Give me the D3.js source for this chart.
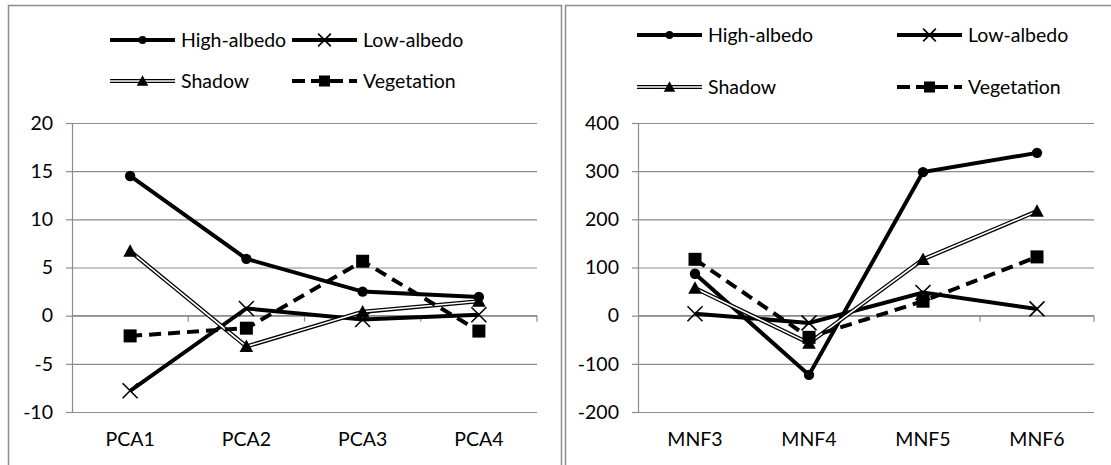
<!DOCTYPE html>
<html><head><meta charset="utf-8">
<script src="https://cdn.jsdelivr.net/npm/d3@7"></script>
<style>
html,body{margin:0;padding:0;background:#fff;}
svg{display:block;}
text{font-family:Lato, "Liberation Sans", sans-serif;fill:#000;}
</style></head>
<body>
<svg id="chart" width="1111" height="465"></svg>
<script>
// ---- data ----
const seriesNames = ["High-albedo", "Low-albedo", "Shadow", "Vegetation"];
const pcaCategories = ["PCA1", "PCA2", "PCA3", "PCA4"];
const pcaHigh = [14.5, 5.9, 2.5, 1.95];
const pcaLow = [-7.8, 0.75, -0.4, 0.1];
const pcaShadow = [6.7, -3.2, 0.4, 1.5];
const pcaVeg = [-2.1, -1.3, 5.65, -1.6];
const pcaTicks = [-10, -5, 0, 5, 10, 15, 20];

const mnfCategories = ["MNF3", "MNF4", "MNF5", "MNF6"];
const mnfHigh = [87, -123, 298, 338];
const mnfLow = [4, -15, 48, 14];
const mnfShadow = [57, -57, 117, 217];
const mnfVeg = [117, -45, 30, 122];
const mnfTicks = [-200, -100, 0, 100, 200, 300, 400];

// ---- drawing ----
const svg = d3.select("#chart");
const FONT = 19.5;
const GRID = "#8c8c8c";

svg.append("rect").attr("width", 1111).attr("height", 465).attr("fill", "#fff");
// frames
svg.append("rect").attr("x", 8.5).attr("y", 5.5).attr("width", 553).attr("height", 480)
  .attr("fill", "none").attr("stroke", GRID).attr("stroke-width", 1.5);
svg.append("rect").attr("x", 565.5).attr("y", 5.5).attr("width", 560).attr("height", 480)
  .attr("fill", "none").attr("stroke", GRID).attr("stroke-width", 1.5);

const styles = [
  {kind: "solid", marker: "circle"},
  {kind: "solid", marker: "x"},
  {kind: "double", marker: "triangle"},
  {kind: "dash", marker: "square"}
];

function drawMarker(g, type, cx, cy, s) {
  if (type === "circle") {
    g.append("circle").attr("cx", cx).attr("cy", cy).attr("r", 5.2 * s).attr("fill", "#000");
  } else if (type === "x") {
    const h = 7.5 * s;
    g.append("path").attr("d", `M${cx-h},${cy-h}L${cx+h},${cy+h}M${cx-h},${cy+h}L${cx+h},${cy-h}`)
      .attr("stroke", "#000").attr("stroke-width", 1.6).attr("fill", "none");
  } else if (type === "triangle") {
    const w = 6.8 * s, h = 12.5 * s;
    g.append("path").attr("d", `M${cx},${cy-h*0.55}L${cx+w},${cy+h*0.45}L${cx-w},${cy+h*0.45}Z`).attr("fill", "#000");
  } else if (type === "square") {
    const h = 6.5 * s;
    g.append("rect").attr("x", cx-h).attr("y", cy-h).attr("width", 2*h).attr("height", 2*h).attr("fill", "#000");
  }
}

function drawLine(g, pts, kind) {
  const line = d3.line();
  if (kind === "double") {
    g.append("path").attr("d", line(pts)).attr("fill", "none").attr("stroke", "#000").attr("stroke-width", 4.2);
    g.append("path").attr("d", line(pts)).attr("fill", "none").attr("stroke", "#fff").attr("stroke-width", 1.6);
  } else {
    g.append("path").attr("d", line(pts)).attr("fill", "none").attr("stroke", "#000")
      .attr("stroke-width", 4).attr("stroke-dasharray", kind === "dash" ? "12,7" : null);
  }
}

function panel(opts) {
  const {x0, x1, y0, y1, cats, series, ticks, legend} = opts;
  const g = svg.append("g");
  const x = d3.scaleBand().domain(cats).range([x0, x1]).padding(0);
  const y = d3.scaleLinear().domain([ticks[0], ticks[ticks.length-1]]).range([y1, y0]);

  // gridlines
  const grid = g.append("g").attr("transform", `translate(${x0},0)`)
    .call(d3.axisLeft(y).tickValues(ticks).tickSize(-(x1 - x0)).tickFormat(""));
  grid.select(".domain").remove();
  grid.selectAll("line").attr("stroke", GRID).attr("stroke-width", 1.2);

  // y axis with outer ticks and labels (plain hyphen minus)
  const ya = g.append("g").attr("transform", `translate(${x0},0)`)
    .call(d3.axisLeft(y).tickValues(ticks).tickSize(6).tickSizeOuter(0).tickPadding(13)
      .tickFormat(d => String(d)));
  ya.select(".domain").attr("stroke", GRID).attr("stroke-width", 1.2);
  ya.selectAll("line").attr("stroke", GRID).attr("stroke-width", 1.2);
  ya.selectAll("text").attr("font-size", FONT).attr("font-family", "Lato").attr("fill", "#000");

  // x axis at zero with boundary ticks
  const xa = g.append("g").attr("transform", `translate(0,${y(0)})`);
  xa.append("line").attr("x1", x0).attr("x2", x1).attr("stroke", GRID).attr("stroke-width", 1.2);
  cats.forEach((c, i) => {
    const bx = x(c) + x.bandwidth();
    xa.append("line").attr("x1", bx).attr("x2", bx).attr("y1", 0).attr("y2", 6)
      .attr("stroke", GRID).attr("stroke-width", 1.2);
  });

  // category labels
  const xl = g.append("g").attr("transform", `translate(0,${y1})`)
    .call(d3.axisBottom(x).tickSize(0).tickPadding(20));
  xl.select(".domain").remove();
  xl.selectAll("text").attr("font-size", FONT).attr("font-family", "Lato").attr("fill", "#000");

  // series
  series.forEach((vals, si) => {
    const pts = vals.map((v, i) => [x(cats[i]) + x.bandwidth()/2, y(v)]);
    const sg = g.append("g");
    drawLine(sg, pts, styles[si].kind);
    pts.forEach(p => drawMarker(sg, styles[si].marker, p[0], p[1], 1));
  });

  // legend
  const lg = g.append("g");
  legend.items.forEach((it, si) => {
    const [lx, ly] = it;
    const pts = [[lx, ly], [lx + 65, ly]];
    if (styles[si].kind === "dash") {
      lg.append("path").attr("d", d3.line()(pts)).attr("stroke", "#000").attr("stroke-width", 4)
        .attr("stroke-dasharray", "13,6").attr("fill", "none");
    } else {
      drawLine(lg, pts, styles[si].kind);
    }
    drawMarker(lg, styles[si].marker, lx + 32.5, ly, styles[si].marker === "circle" ? 0.75 : 0.85);
    lg.append("text").attr("x", lx + 71).attr("y", ly).attr("dy", "0.35em")
      .attr("font-size", FONT).text(seriesNames[si]);
  });
}

panel({
  x0: 72, x1: 537, y0: 123, y1: 412,
  cats: pcaCategories,
  series: [pcaHigh, pcaLow, pcaShadow, pcaVeg],
  ticks: pcaTicks,
  legend: {items: [[110, 40], [292, 40], [110, 81], [292, 81]]}
});
panel({
  x0: 638, x1: 1094, y0: 123, y1: 412,
  cats: mnfCategories,
  series: [mnfHigh, mnfLow, mnfShadow, mnfVeg],
  ticks: mnfTicks,
  legend: {items: [[637, 35], [897, 35], [637, 87], [897, 87]]}
});
</script>
</body></html>
